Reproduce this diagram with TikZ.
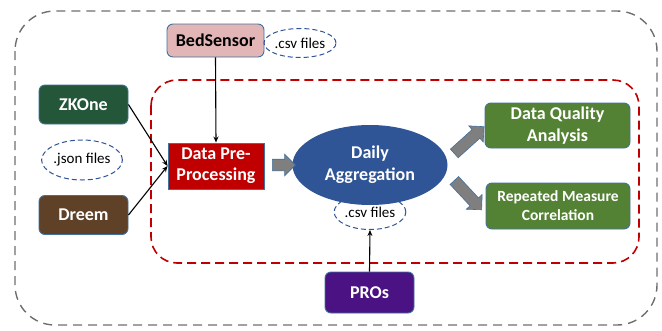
\documentclass[tikz,border=0pt]{standalone}
\usepackage{fontspec}
\setmainfont{Carlito}
\usetikzlibrary{shapes.geometric,shapes.arrows,arrows.meta}
\definecolor{outerg}{HTML}{6E6E6E}
\definecolor{redd}{HTML}{C00000}
\definecolor{bordb}{HTML}{41719C}
\definecolor{bedpink}{HTML}{E2B6B6}
\definecolor{zkgreen}{HTML}{24573A}
\definecolor{dreembrown}{HTML}{5E4127}
\definecolor{aggblue}{HTML}{2F5597}
\definecolor{outgreen}{HTML}{548235}
\definecolor{prop}{HTML}{4B1283}
\definecolor{ellb}{HTML}{2F5597}
\definecolor{arrg}{HTML}{7F7F7F}
\tikzset{
  box/.style={draw=bordb, line width=0.9pt, rounded corners=6pt, align=center, font=\bfseries, text=white, inner sep=0pt},
  filelbl/.style={ellipse, draw=ellb, dashed, dash pattern=on 5pt off 3pt, line width=1pt, font=\fontsize{15}{16}\selectfont, inner sep=0pt},
  conn/.style={-{Stealth[length=6pt,width=5pt]}, line width=1.1pt, black},
  blockarrow/.style={single arrow, fill=arrg, draw=bordb, line width=0.6pt, single arrow head extend=5pt, inner xsep=0pt, inner ysep=5.5pt, single arrow tip angle=90}
}
\begin{document}
\begin{tikzpicture}[x=1pt,y=-1pt]
\useasboundingbox (0,0) rectangle (662,330);
% outer frame
\draw[outerg, line width=1.4pt, dash pattern=on 9pt off 6pt, rounded corners=40pt] (15,11) rectangle (657,325);
% red frame
\draw[redd, line width=1.6pt, dash pattern=on 9pt off 5pt, rounded corners=26pt] (151,80) rectangle (639,263);

\node[box, fill=bedpink, text=black, minimum width=97pt, minimum height=33pt, font=\bfseries\fontsize{18}{19}\selectfont] (bed) at (215.5,40.5) {BedSensor};
\node[filelbl, minimum width=72pt, minimum height=29pt] (csv1) at (300,43) {.csv files};

\node[box, fill=zkgreen, minimum width=89pt, minimum height=39pt, font=\bfseries\fontsize{18}{19}\selectfont] (zk) at (83.5,104.5) {ZKOne};
\node[filelbl, minimum width=75pt, minimum height=40pt] (json) at (82,160) {.json files};
\node[box, fill=dreembrown, minimum width=89pt, minimum height=39pt, font=\bfseries\fontsize{18}{19}\selectfont] (dreem) at (83.5,215) {Dreem};

\node[box, fill=redd, rounded corners=0pt, minimum width=96pt, minimum height=46pt, font=\bfseries\fontsize{18}{21}\selectfont] (pre) at (216,166) {Data Pre-\\Processing};

\node[ellipse, fill=aggblue, text=white, align=center, minimum width=155pt, minimum height=80pt, inner sep=0pt, font=\bfseries\fontsize{18}{22}\selectfont] (agg) at (370,165) {Daily\\Aggregation};
\node[filelbl, minimum width=70pt, minimum height=35pt] (csv2) at (370,212) {.csv files};

\node[box, fill=outgreen, minimum width=145pt, minimum height=45pt, font=\bfseries\fontsize{18}{22}\selectfont] (dqa) at (557.5,125.5) {Data Quality\\Analysis};
\node[box, fill=outgreen, minimum width=144pt, minimum height=46pt, font=\bfseries\fontsize{15.5}{19}\selectfont] (rmc) at (558,206) {Repeated Measure\\Correlation};

\node[box, fill=prop, minimum width=89pt, minimum height=41pt, font=\bfseries\fontsize{18}{19}\selectfont] (pro) at (369.5,292.5) {PROs};

% connectors
\draw[conn] (zk.east) -- (pre.west);
\draw[conn] (dreem.east) -- (pre.west);
\draw[conn] (bed.south) -- (pre.north);
\draw[conn] (pro.north) -- (csv2.south);

% block arrows
\node[blockarrow, minimum height=23pt, minimum width=21pt] (ba1) at (281,165) {};
\node[blockarrow, minimum height=40pt, minimum width=21pt, rotate=42] (ba2) at (467,142) {};
\node[blockarrow, minimum height=40pt, minimum width=21pt, rotate=-47] (ba3) at (466,193) {};
\end{tikzpicture}
\end{document}
